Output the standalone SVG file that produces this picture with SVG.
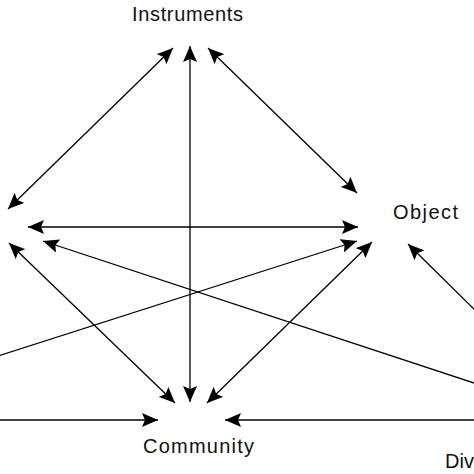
<svg xmlns="http://www.w3.org/2000/svg" width="474" height="474" viewBox="0 0 474 474">
<style>
.lbl{font-family:"Liberation Sans",Arial,sans-serif;font-size:20px;fill:#111}
.c line{stroke:#000;stroke-width:1.3}
.s{marker-end:url(#ah)}
.d{marker-start:url(#ah);marker-end:url(#ah)}
</style>
<defs>
<marker id="ah" markerUnits="userSpaceOnUse" markerWidth="17" markerHeight="14" refX="16" refY="7" orient="auto-start-reverse">
<path d="M0,0 L16,7 L0,14 L3,7 z" fill="#000"/>
</marker>
</defs>
<rect width="474" height="474" fill="#fff"/>
<g id="connectors" class="c">
<line class="d" x1="173" y1="48" x2="8" y2="209"/>
<line class="d" x1="190" y1="46" x2="190" y2="402"/>
<line class="d" x1="208" y1="48" x2="357" y2="193"/>
<line class="d" x1="28" y1="227" x2="358" y2="227"/>
<line class="d" x1="9" y1="243" x2="175" y2="403"/>
<line class="d" x1="372" y1="242" x2="207" y2="403"/>
<line class="s" x1="480" y1="385" x2="43" y2="241"/>
<line class="s" x1="-5" y1="357" x2="357" y2="241"/>
<line class="s" x1="480" y1="315" x2="408" y2="244"/>
<line class="s" x1="-5" y1="420" x2="158" y2="420"/>
<line class="s" x1="480" y1="420" x2="225" y2="420"/>
</g>
<g id="instruments"><text class="lbl" x="132" y="21" textLength="111" lengthAdjust="spacing">Instruments</text></g>
<g id="object"><text class="lbl" x="393" y="219" textLength="65" lengthAdjust="spacing">Object</text></g>
<g id="community"><text class="lbl" x="143" y="453" textLength="111" lengthAdjust="spacing">Community</text></g>
<g id="division"><text class="lbl" x="445" y="468">Div</text></g>
</svg>
